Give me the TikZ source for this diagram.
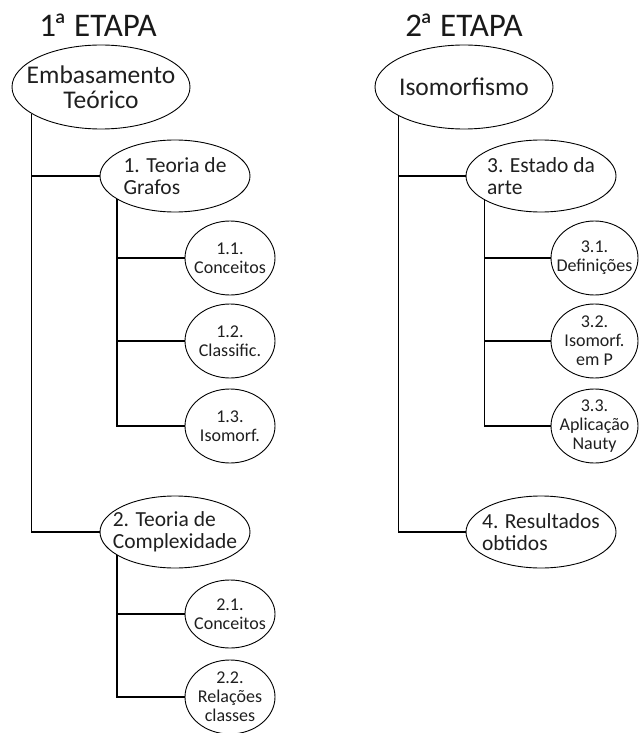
\documentclass[tikz,border=0pt]{standalone}
\usepackage{fontspec}
\setmainfont{Carlito}
\usetikzlibrary{shapes.geometric}
\begin{document}
\begin{tikzpicture}[x=1pt,y=-1pt,
  ell/.style={ellipse, draw, line width=0.9pt, inner sep=-20pt, text=black!88},
  big/.style={ell, minimum width=178pt, minimum height=84pt, align=center, font=\fontsize{25.5}{25}\selectfont},
  mid/.style={ell, minimum width=150pt, minimum height=72pt, align=left, font=\fontsize{21.5}{22}\selectfont},
  small/.style={ell, minimum width=90pt, minimum height=74pt, align=center, font=\fontsize{18}{19}\selectfont},
  smallr/.style={small, minimum width=87pt},
  title/.style={font=\fontsize{33}{33}\selectfont, text=black!90, inner sep=0pt},
  conn/.style={line width=1.4pt}
]
\useasboundingbox (0,0) rectangle (638,733);
\node[title] (h1) at (98,25) {1\kern-0.08emª ETAPA};
\node[title] (h2) at (464,25) {2\kern-0.08emª ETAPA};

\node[big] (emb) at (101,87) {Embasamento\\Teórico};
\node[big] (iso) at (464,87) {Isomorfismo};

\node[mid] (t1) at (175,176) {1. Teoria de\\Grafos};
\node[mid] (t2) at (175,532) {2. Teoria de\\Complexidade};
\node[mid] (t3) at (541,176) {3. Estado da\\arte};
\node[mid] (t4) at (541,532) {4. Resultados\\obtidos};

\node[small] (s11) at (230,258) {1.1.\\Conceitos};
\node[small] (s12) at (230,341) {1.2.\\Classific.};
\node[small] (s13) at (230,426) {1.3.\\Isomorf.};
\node[small, minimum height=68pt] (s21) at (230,614) {2.1.\\Conceitos};
\node[small] (s22) at (230,697) {2.2.\\Relações\\classes};

\node[smallr] (s31) at (594.5,258) {3.1.\\Definições};
\node[smallr] (s32) at (594.5,341) {3.2.\\Isomorf.\\em P};
\node[smallr] (s33) at (594.5,426) {3.3.\\Aplicação\\Nauty};

% connectors, left stage
\draw[conn] (emb.201.7) |- (t2.west);
\draw[conn] (emb.201.7 |- t1.west) -- (t1.west);
\draw[conn] (t1.202.3) |- (s13.west);
\draw[conn] (t1.202.3 |- s11.west) -- (s11.west);
\draw[conn] (t1.202.3 |- s12.west) -- (s12.west);
\draw[conn] (t2.202.3) |- (s22.west);
\draw[conn] (t2.202.3 |- s21.west) -- (s21.west);

% connectors, right stage
\draw[conn] (iso.204.5) |- (t4.west);
\draw[conn] (iso.204.5 |- t3.west) -- (t3.west);
\draw[conn] (t3.203.1) |- (s33.west);
\draw[conn] (t3.203.1 |- s31.west) -- (s31.west);
\draw[conn] (t3.203.1 |- s32.west) -- (s32.west);
\end{tikzpicture}
\end{document}
